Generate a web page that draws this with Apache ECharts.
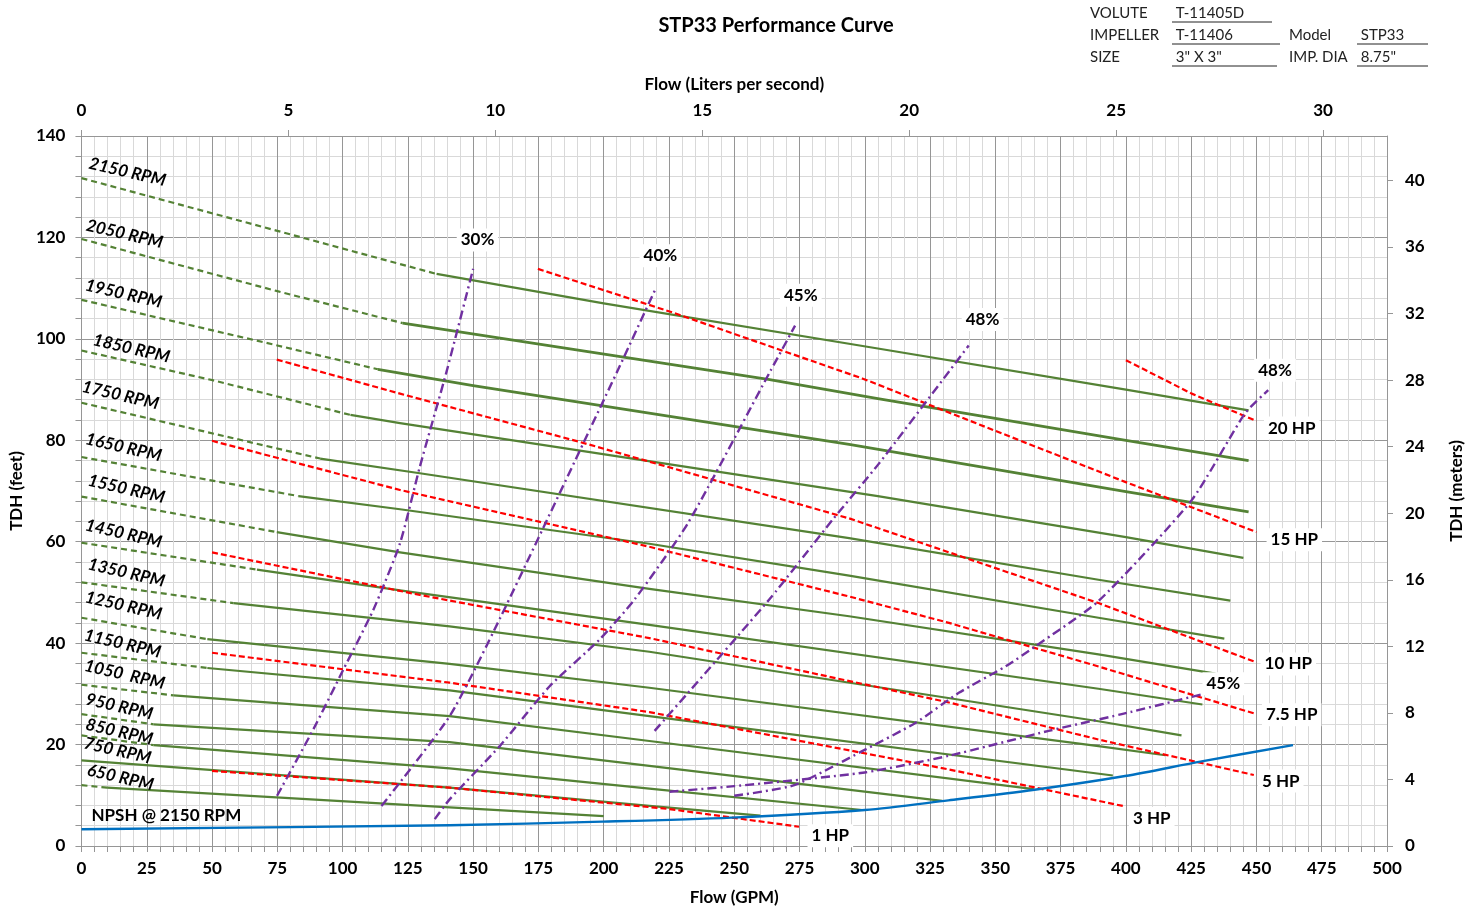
<!DOCTYPE html>
<html><head><meta charset="utf-8">
<script src="https://cdn.jsdelivr.net/npm/echarts@6/dist/echarts.min.js"></script>
<style>html,body{margin:0;padding:0;background:#fff}#c{width:1477px;height:911px}</style>
</head><body><div id="c"></div>
<script>
// ---------- DATA (GPM, feet) ----------
const lpsTicks = [0,5,10,15,20,25,30];
const meterTicks = [0,4,8,12,16,20,24,28,32,36,40];

const rpmNames = ['2150 RPM','2050 RPM','1950 RPM','1850 RPM','1750 RPM','1650 RPM','1550 RPM','1450 RPM','1350 RPM','1250 RPM','1150 RPM','1050  RPM','950 RPM','850 RPM','750 RPM','650 RPM'];

const rpm2150Dash=[[0,131.7],[75,121.3],[136,112.8]];
const rpm2150=[[136,112.8],[200,107.0],[305,98.1],[400,90.0],[447,85.9]];
const rpm2050Dash=[[0,119.7],[75,109.4],[123,103.1]];
const rpm2050=[[123,103.1],[263,92.0],[305,88.2],[400,80.0],[447,76.0]];
const rpm1950Dash=[[0,107.7],[75,98.7],[113.5,94.0]];
const rpm1950=[[113.5,94.0],[150,90.8],[294,79.2],[400,69.9],[447,65.9]];
const rpm1850Dash=[[0,97.7],[50.6,91.8],[103,85.0]];
const rpm1850=[[103,85.0],[122,83.4],[305,69.0],[400,60.9],[445,56.8]];
const rpm1750Dash=[[0,87.4],[91.4,76.4]];
const rpm1750=[[91.4,76.4],[129.6,73.5],[294,60.7],[389.5,52.5],[440,48.4]];
const rpm1650Dash=[[0,76.7],[83.1,69.0]];
const rpm1650=[[83.1,69.0],[122,66.4],[217.5,59.6],[294,53.3],[389.5,45.0],[437.7,40.9]];
const rpm1550Dash=[[0,68.9],[74.8,61.9]];
const rpm1550=[[74.8,61.9],[122,57.9],[217.5,50.7],[294,45.3],[389.5,37.8],[434.3,34.0]];
const rpm1450Dash=[[0,59.8],[67.2,54.5]];
const rpm1450=[[67.2,54.5],[122,50.4],[217.5,43.6],[389.5,31.0],[429.3,27.9]];
const rpm1350Dash=[[0,52.0],[58.2,47.9]];
const rpm1350=[[58.2,47.9],[141,43.3],[217.5,38.3],[389.5,24.6],[421.3,21.8]];
const rpm1250Dash=[[0,45.0],[48.2,40.8]];
const rpm1250=[[48.2,40.8],[141,35.9],[217.5,31.2],[389.5,19.7],[415.1,17.9]];
const rpm1150Dash=[[0,38.1],[48.2,35.1]];
const rpm1150=[[48.2,35.1],[141,30.7],[217.5,25.6],[395,13.9]];
const rpm1050Dash=[[0,31.8],[35.3,29.7]];
const rpm1050=[[35.3,29.7],[141,25.6],[217.5,20.7],[364.7,11.2]];
const rpm950Dash=[[0,26.0],[27.6,24.0]];
const rpm950=[[27.6,24.0],[141,20.5],[217.5,15.8],[329.6,8.9]];
const rpm850Dash=[[0,21.8],[27.6,19.9]];
const rpm850=[[27.6,19.9],[141,15.3],[217.5,11.3],[299,7.1]];
const rpm750Dash=[];
const rpm750=[[0,16.9],[141,11.5],[217.5,7.9],[260,6.0]];
const rpm650Dash=[[0,12.0],[9.8,11.5]];
const rpm650=[[9.8,11.5],[141,7.6],[200,5.9]];

// Horsepower lines
const hpNames=['20 HP','15 HP','10 HP','7.5 HP','5 HP','3 HP','1 HP'];
const hp20=[[400,95.8],[425.2,89.2],[450,83.8]];
const hp15=[[174.8,113.8],[226.4,105.2],[299,92.2],[399.7,71.8],[450,61.9]];
const hp10=[[74.8,95.9],[122,89.2],[190.7,79.7],[294,64.6],[389.5,47.9],[450,36.2]];
const hp7_5=[[50,79.9],[122,70.2],[217.5,59.0],[294,49.2],[332.2,44.0],[389.5,35.4],[450,26.0]];
const hp5=[[50,57.9],[129.6,49.5],[217.5,41.0],[332.2,28.3],[389.5,21.0],[449,14.0]];
const hp3=[[50,38.1],[141,32.2],[217.5,26.4],[332.2,15.1],[399.7,7.8]];
const hp1=[[50,14.8],[141,11.5],[225,7.3],[274.8,3.8]];

// Efficiency contours
const effNames=['30%','40%','45%','48%','48%','45%'];
const eff30=[[74.9,9.9],[88.8,23.0],[100.3,34.8],[111.8,46.6],[122,59.7],[129.6,74.8],[139.8,93.5],[150,113.8]];
const eff40=[[114.9,7.9],[141,25.6],[160.2,44.8],[205.4,93.8],[219.8,109.8]];
const eff45Upper=[[135.3,5.3],[141,9.2],[160.2,19.7],[179.3,31.5],[198.4,40.7],[211.8,48.6],[232.2,63.6],[264,93.8],[273.3,102.6]];
const eff48Upper=[[219.5,22.7],[263.4,48.6],[287.6,64.3],[305.4,75.4],[339.8,98.7]];
const eff48Lower=[[250,9.9],[273,12.0],[299,18.7],[319.5,24.3],[336,30.2],[353.9,35.4],[365.4,39.4],[389.5,48.3],[425.2,68.2],[445.6,85.3],[454.5,89.9]];
const eff45Lower=[[225.2,10.7],[250,11.8],[300,14.5],[332.2,17.8],[370.4,22.7],[398.4,26.0],[429,29.9]];

// NPSH at 2150 RPM
const npsh=[[0,3.3],[141,4.1],[199.6,4.8],[249,5.6],[300,7.1],[332,9.0],[365,11.1],[399.7,13.8],[429,16.7],[464,19.9]];

// ---------- LAYOUT / STYLE ----------
const GREEN='#548235', RED='#ff0000', PURPLE='#7030a0', BLUE='#0070c0';
const FONT='Lato, "Open Sans", sans-serif';
const rpmDash=[rpm2150Dash,rpm2050Dash,rpm1950Dash,rpm1850Dash,rpm1750Dash,rpm1650Dash,rpm1550Dash,rpm1450Dash,rpm1350Dash,rpm1250Dash,rpm1150Dash,rpm1050Dash,rpm950Dash,rpm850Dash,rpm750Dash,rpm650Dash];
const rpmSolid=[rpm2150,rpm2050,rpm1950,rpm1850,rpm1750,rpm1650,rpm1550,rpm1450,rpm1350,rpm1250,rpm1150,rpm1050,rpm950,rpm850,rpm750,rpm650];
const rpmLabelAt=[[17.6,132.9],[16.5,120.7],[16.1,108.9],[19.1,98.1],[14.9,88.9],[16.1,78.6],[17.2,70.4],[16.1,61.6],[17.2,53.9],[16.1,47.4],[15.7,39.9],[16.5,33.8],[14.5,27.5],[14.5,22.5],[13.8,18.8],[14.9,13.5]];
const hpLines=[hp20,hp15,hp10,hp7_5,hp5,hp3,hp1];
const hpLabelAt=[[463.5,82.4],[464.5,60.4],[462.2,35.9],[463.5,25.9],[459.3,12.8],[409.9,5.4],[286.8,2.0]];
const effLines=[eff30,eff40,eff45Upper,eff48Upper,eff48Lower,eff45Lower];
const effLabelAt=[[151.7,119.5],[221.7,116.4],[275.5,108.6],[345.1,103.8],[457.1,93.8],[437.3,32.0]];

function lineSeries(data,color,width,type,smooth){
  return {type:'line',data:data,xAxisIndex:0,yAxisIndex:0,symbol:'none',showSymbol:false,
    smooth:smooth||false,silent:true,animation:false,
    lineStyle:{color:color,width:width,type:type,cap:'butt',join:'round'},z:3};
}
function textSeries(text,pos,opt){
  return {type:'scatter',data:[pos],xAxisIndex:0,yAxisIndex:0,symbol:'circle',symbolSize:2,
    itemStyle:{color:'rgba(0,0,0,0)'},silent:true,animation:false,z:10,
    label:Object.assign({show:true,position:'inside',formatter:text,color:'#000',opacity:1,textBorderWidth:0,
      fontFamily:FONT,fontWeight:900,fontSize:17},opt)};
}

const series=[];
rpmDash.forEach((d,i)=>{ if(d.length) series.push(lineSeries(d,GREEN,2.2,[6,4])); });
rpmSolid.forEach((d,i)=>{ series.push(lineSeries(d,GREEN,(i===1||i===2)?2.8:2.2,'solid')); });
hpLines.forEach(d=>series.push(lineSeries(d,RED,2.2,[6,3])));
effLines.forEach(d=>series.push(lineSeries(d,PURPLE,2.4,[9,4,2,4],0.2)));
series.push(lineSeries(npsh,BLUE,2.4,'solid',0.3));
rpmNames.forEach((t,i)=>series.push(textSeries(t,rpmLabelAt[i],{fontStyle:'italic',fontSize:17,fontWeight:'bold',rotate:-13})));
series.push(textSeries('NPSH @ 2150 RPM',[32.5,6.0],{fontSize:17,fontWeight:'bold'}));
hpNames.forEach((t,i)=>series.push(textSeries(t,hpLabelAt[i],{backgroundColor:'#fff',padding:[3,4],fontWeight:'bold'})));
effNames.forEach((t,i)=>series.push(textSeries(t,effLabelAt[i],{backgroundColor:'#fff',padding:[3,4],fontWeight:'bold'})));

const axisTxt={color:'#000',fontFamily:FONT,fontWeight:'bold',fontSize:17};
const GRIDMAJ='#969696', GRIDMIN='#d9d9d9';

const option={
  animation:false,
  backgroundColor:'#fff',
  grid:{left:81,right:90,top:136,bottom:63.5,containLabel:false},
  xAxis:[
    {type:'value',position:'bottom',min:0,max:500,interval:25,
     axisLine:{show:true,onZero:false,lineStyle:{color:GRIDMAJ}},
     axisTick:{show:true,length:6,lineStyle:{color:GRIDMAJ}},
     minorTick:{show:true,splitNumber:5,length:6,lineStyle:{color:GRIDMAJ}},
     splitLine:{show:true,lineStyle:{color:GRIDMAJ,width:1}},
     minorSplitLine:{show:true,lineStyle:{color:GRIDMIN,width:1}},
     axisLabel:Object.assign({margin:14},axisTxt),
     name:'Flow (GPM)',nameLocation:'middle',nameGap:43,nameTextStyle:axisTxt},
    {type:'value',position:'top',min:0,max:31.545,interval:5,
     axisLine:{show:true,onZero:false,lineStyle:{color:GRIDMAJ}},
     axisTick:{show:true,length:6,lineStyle:{color:GRIDMAJ}},
     splitLine:{show:false},
     axisLabel:Object.assign({margin:17,showMaxLabel:false},axisTxt),
     name:'Flow (Liters per second)',nameLocation:'middle',nameGap:43,nameTextStyle:axisTxt}
  ],
  yAxis:[
    {type:'value',position:'left',min:0,max:140,interval:20,
     axisLine:{show:true,onZero:false,lineStyle:{color:GRIDMAJ}},
     axisTick:{show:true,length:6,lineStyle:{color:GRIDMAJ}},
     minorTick:{show:true,splitNumber:5,length:6,lineStyle:{color:GRIDMAJ}},
     splitLine:{show:true,lineStyle:{color:GRIDMAJ,width:1}},
     minorSplitLine:{show:true,lineStyle:{color:GRIDMIN,width:1}},
     axisLabel:Object.assign({margin:16},axisTxt),
     name:'TDH (feet)',nameLocation:'middle',nameGap:47,nameTextStyle:axisTxt},
    {type:'value',position:'right',min:0,max:42.672,interval:4,
     axisLine:{show:true,onZero:false,lineStyle:{color:GRIDMAJ}},
     axisTick:{show:true,length:6,lineStyle:{color:GRIDMAJ}},
     splitLine:{show:false},
     axisLabel:Object.assign({margin:18,showMaxLabel:false},axisTxt),
     name:'TDH (meters)',nameLocation:'middle',nameGap:61,nameTextStyle:axisTxt}
  ],
  graphic:[
    {type:'text',x:776,y:26,style:{text:'STP33 Performance Curve',fill:'#000',font:'bold 20px '+FONT,align:'center',verticalAlign:'middle'}},
    {type:'text',x:1090,y:13,style:{text:'VOLUTE',fill:'#222',font:'15px '+FONT,verticalAlign:'middle'}},
    {type:'text',x:1090,y:35,style:{text:'IMPELLER',fill:'#222',font:'15px '+FONT,verticalAlign:'middle'}},
    {type:'text',x:1090,y:57,style:{text:'SIZE',fill:'#222',font:'15px '+FONT,verticalAlign:'middle'}},
    {type:'text',x:1172,y:13,style:{text:' T-11405D',fill:'#222',font:'15px '+FONT,verticalAlign:'middle'}},
    {type:'text',x:1172,y:35,style:{text:' T-11406',fill:'#222',font:'15px '+FONT,verticalAlign:'middle'}},
    {type:'text',x:1172,y:57,style:{text:' 3" X 3"',fill:'#222',font:'15px '+FONT,verticalAlign:'middle'}},
    {type:'text',x:1289,y:35,style:{text:'Model',fill:'#222',font:'15px '+FONT,verticalAlign:'middle'}},
    {type:'text',x:1289,y:57,style:{text:'IMP. DIA',fill:'#222',font:'15px '+FONT,verticalAlign:'middle'}},
    {type:'text',x:1357,y:35,style:{text:' STP33',fill:'#222',font:'15px '+FONT,verticalAlign:'middle'}},
    {type:'text',x:1357,y:57,style:{text:' 8.75"',fill:'#222',font:'15px '+FONT,verticalAlign:'middle'}},
    {type:'line',shape:{x1:1172,y1:22,x2:1272,y2:22},style:{stroke:'#222',lineWidth:1}},
    {type:'line',shape:{x1:1172,y1:44,x2:1280,y2:44},style:{stroke:'#222',lineWidth:1}},
    {type:'line',shape:{x1:1172,y1:66,x2:1277,y2:66},style:{stroke:'#222',lineWidth:1}},
    {type:'line',shape:{x1:1357,y1:44,x2:1428,y2:44},style:{stroke:'#222',lineWidth:1}},
    {type:'line',shape:{x1:1357,y1:66,x2:1428,y2:66},style:{stroke:'#222',lineWidth:1}}
  ],
  series:series
};
const chart=echarts.init(document.getElementById('c'),null,{renderer:'canvas'});
chart.setOption(option);
</script>
</body></html>
